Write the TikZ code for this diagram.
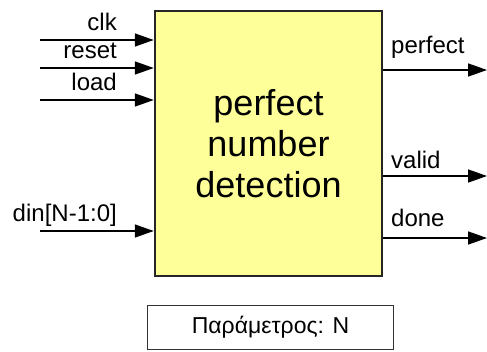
\documentclass[tikz,border=0pt]{standalone}
\usepackage{fontspec}
\setmainfont{Liberation Sans}
\usetikzlibrary{arrows.meta}
\definecolor{blockyellow}{HTML}{FFFF99}
\begin{document}
\begin{tikzpicture}[x=1pt, y=-1pt,
    block/.style={draw=black!85, line width=2.5pt, fill=blockyellow,
              minimum width=227pt, minimum height=265pt, inner sep=0pt,
              align=center, font=\fontsize{36}{41}\selectfont},
    port/.style={line width=1.6pt, -{Triangle[length=19pt, width=13pt]}},
    sig/.style={inner sep=0pt, font=\fontsize{24}{24}\selectfont},
    parambox/.style={draw=black!80, line width=1.5pt, minimum width=246pt,
              minimum height=44pt, inner sep=0pt, font=\fontsize{23}{23}\selectfont}]
    \useasboundingbox (0,0) rectangle (487,351);
    \node[block] (pnd) at (268.5,143.5) {perfect\\number\\detection};
    % inputs
    \foreach \name/\y/\txt in {clk/40/clk, rst/68/reset, ld/100/load, din/231/{din[N-1:0]}}{
        \coordinate (\name) at (40,\y);
        \draw[port] (\name) -- (\name -| pnd.west);
        \node[sig, anchor=base east] (\name-lbl) at (117,\y-10) {\txt};
    };
    % outputs
    \foreach \name/\y/\b/\txt in {perf/70/53/perfect, vld/176/168/valid, dn/238/226/done}{
        \coordinate (\name) at (487,\y);
        \draw[port] (\name -| pnd.east) -- (\name);
        \node[sig, anchor=base west] (\name-lbl) at (391,\b) {\txt};
    };
    \node[parambox] (param) at (270.5,327.5) {Παράμετρος: N};
\end{tikzpicture}
\end{document}
